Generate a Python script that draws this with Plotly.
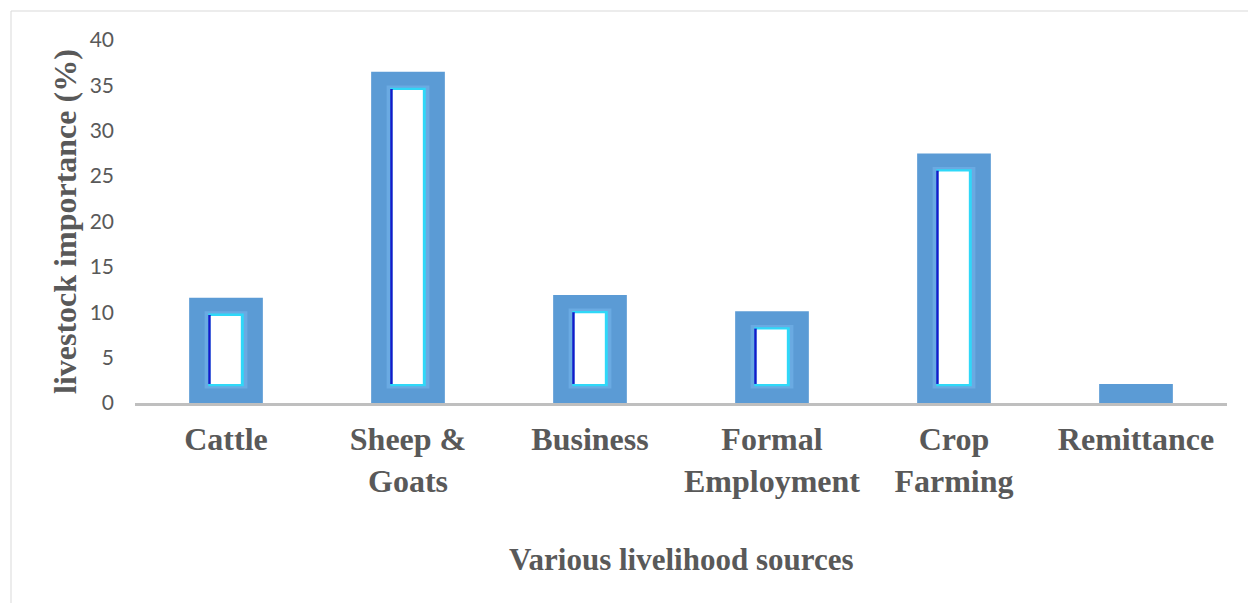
import plotly.graph_objects as go

categories = ["Cattle", "Sheep &<br>Goats", "Business", "Formal<br>Employment", "Crop<br>Farming", "Remittance"]
values = [11.6, 36.5, 11.9, 10.1, 27.5, 2.1]
y_ticks = [0, 5, 10, 15, 20, 25, 30, 35, 40]

y_title = "livestock importance (%)"
x_title = "Various livelihood sources"

OUTER = "#5b9bd5"
BASE_IN = 2.1
TOP_IN = 2.0

def inner(v, b, t):
    return [(x - b - t) if x > b + t else None for x in v]

fig = go.Figure()
fig.add_trace(go.Bar(x=categories, y=values, width=0.405, marker=dict(color=OUTER, line=dict(width=0)),
                     hoverinfo="skip"))
# soft halo
fig.add_trace(go.Bar(x=categories, y=inner(values, 1.6, 1.5), base=1.6, width=0.235,
                     marker=dict(color="#6aaae2", line=dict(width=0)), hoverinfo="skip"))
# cyan rim
fig.add_trace(go.Bar(x=categories, y=inner(values, BASE_IN - 0.25, TOP_IN - 0.25), base=BASE_IN - 0.25, width=0.195,
                     marker=dict(color="#2fd8f8", line=dict(width=0)), hoverinfo="skip"))
# dark blue left edge
fig.add_trace(go.Bar(x=categories, y=inner(values, BASE_IN, TOP_IN - 0.1), base=BASE_IN, width=0.014,
                     offset=-0.0975, marker=dict(color="#1818c8", line=dict(width=0)), hoverinfo="skip"))
# white interior
fig.add_trace(go.Bar(x=categories, y=inner(values, BASE_IN, TOP_IN), base=BASE_IN, width=0.165,
                     offset=-0.0835, marker=dict(color="white", line=dict(width=0)), hoverinfo="skip"))

fig.update_layout(
    barmode="overlay",
    showlegend=False,
    width=1248, height=603,
    margin=dict(l=135, r=21, t=40, b=200),
    paper_bgcolor="white", plot_bgcolor="white",
    xaxis=dict(showline=True, linecolor="#bfbfbf", linewidth=3, showgrid=False, zeroline=False,
               ticks="", ticklabelstandoff=6,
               tickfont=dict(family="Liberation Serif", size=32, color="#595959", weight="bold")),
    yaxis=dict(range=[0, 40], tickvals=y_ticks, showgrid=False, zeroline=False, showline=False, ticks="",
               tickfont=dict(family="Lato", size=21, color="#595959"), ticklabelstandoff=20),
    annotations=[
        dict(text=y_title, xref="paper", yref="paper", x=(65 - 135) / 1092, y=(403 - 222) / 363,
             textangle=-90, showarrow=False, xanchor="center", yanchor="middle",
             font=dict(family="Liberation Serif", size=32, color="#595959", weight="bold")),
        dict(text=x_title, xref="paper", yref="paper", x=0.5, y=(403 - 559) / 363,
             showarrow=False, xanchor="center", yanchor="middle",
             font=dict(family="Liberation Serif", size=31, color="#595959", weight="bold")),
    ],
    shapes=[
        dict(type="line", xref="paper", yref="paper", x0=(11 - 135) / 1092, x1=(11 - 135) / 1092,
             y0=(403 - 11) / 363, y1=(403 - 610) / 363, line=dict(color="#d9d9d9", width=1)),
        dict(type="line", xref="paper", yref="paper", x0=(11 - 135) / 1092, x1=(1255 - 135) / 1092,
             y0=(403 - 11) / 363, y1=(403 - 11) / 363, line=dict(color="#d9d9d9", width=1)),
    ],
)

fig.write_html("out.html")
